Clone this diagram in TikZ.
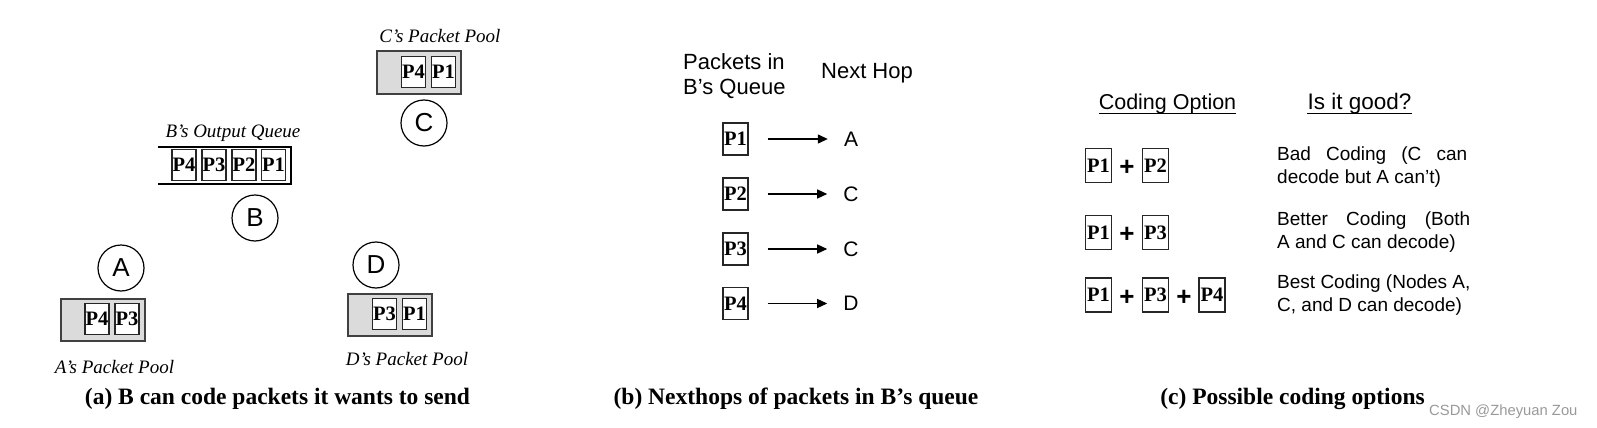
\documentclass[tikz,border=0pt]{standalone}
\usepackage{fontspec}
\setmainfont{Liberation Serif}
\setsansfont{Liberation Sans}
\usetikzlibrary{arrows.meta}
\tikzset{
  pkt/.style={draw=black!85, line width=1.1pt, fill=white, minimum width=24pt, minimum height=31pt, inner sep=0pt, font=\fontsize{20.5}{20.5}\selectfont\bfseries\rmfamily},
  pool/.style={draw=black!75, line width=1.8pt, fill=black!14},
  nd/.style={circle, draw, line width=1.2pt, minimum size=46pt, inner sep=0pt, font=\fontsize{26}{26}\selectfont\sffamily},
  ilbl/.style={anchor=base, inner sep=0pt, font=\fontsize{19}{19}\selectfont\itshape\rmfamily},
  capt/.style={anchor=base, inner sep=0pt, font=\fontsize{23.5}{23.5}\selectfont\bfseries\rmfamily},
  hdr/.style={inner sep=0pt, font=\fontsize{22}{25}\selectfont\sffamily},
  hop/.style={inner sep=2pt, font=\fontsize{21}{21}\selectfont\sffamily},
  plus/.style={inner sep=0pt, font=\fontsize{26}{26}\selectfont\bfseries\sffamily},
  desc/.style={anchor=west, inner sep=0pt, align=left, font=\fontsize{19}{22.5}\selectfont\sffamily},
  arr/.style={line width=1.3pt, -{Triangle[length=10pt,width=9pt]}},
}
\begin{document}
\begin{tikzpicture}[x=1pt,y=-1pt]
\useasboundingbox (0,0) rectangle (1597,428);
% ---------- panel (a) ----------
\node[ilbl] (lc) at (440,42) {C’s Packet Pool};
\draw[pool] (377,51) rectangle (461,94);
\node[pkt] (c4) at (413.5,72) {P4};
\node[pkt] (c1) at (443.5,72) {P1};
\node[nd] (C) at (424,123) {C};

\node[ilbl] (lb) at (233,137) {B’s Output Queue};
\draw[line width=1.3pt] (158,147) -- (291,147) -- (291,184) -- (158,184);
\node[pkt] (b4) at (184,165) {P4};
\node[pkt] (b3) at (214,165) {P3};
\node[pkt] (b2) at (244,165) {P2};
\node[pkt] (b1) at (273.5,165) {P1};
\node[nd] (B) at (255,218) {B};

\node[nd] (A) at (121,268) {A};
\draw[pool] (61,299) rectangle (145,341);
\node[pkt] (a4) at (97,319) {P4};
\node[pkt] (a3) at (127,319) {P3};
\node[ilbl] (la) at (114.5,373) {A’s Packet Pool};

\node[nd] (D) at (376,265) {D};
\draw[pool] (348,294) rectangle (432,336);
\node[pkt] (d3) at (384.5,314) {P3};
\node[pkt] (d1) at (414.5,314) {P1};
\node[ilbl] (ld) at (407,365) {D’s Packet Pool};

\node[capt] (capa) at (277.5,404) {(a) B can code packets it wants to send};

% ---------- panel (b) ----------
\node[hdr, anchor=west, align=left] (hq) at (683,76) {Packets in\\B’s Queue};
\node[hdr] (hn) at (867,73) {Next Hop};
\foreach \i/\y/\h in {1/139/A, 2/194/C, 3/249/C, 4/303.5/D}{
  \node[pkt, minimum width=25pt, minimum height=32pt] (q\i) at (735.5,\y) {P\i};
  \node[hop] (h\i) at (851,\y) {\h};
  \draw[arr, shorten <=19pt, shorten >=14pt] (q\i) -- (h\i);
}
\node[capt] (capb) at (796,404) {(b) Nexthops of packets in B’s queue};

% ---------- panel (c) ----------
\node[hdr, anchor=base, font=\fontsize{21.5}{25}\selectfont\sffamily] (co) at (1167.5,109) {Coding Option};
\draw[line width=1pt] ([yshift=-4pt]co.base west) -- ([yshift=-4pt]co.base east);
\node[hdr, anchor=base, font=\fontsize{22.5}{25}\selectfont\sffamily] (ig) at (1359.5,109) {Is it good?};
\draw[line width=1pt] ([yshift=-4pt]ig.base west) -- ([yshift=-4pt]ig.base east);

\node[pkt, minimum width=26pt, minimum height=34pt] (r1a) at (1098.5,165.5) {P1};
\node[plus] (r1p) at (1127,168) {+};
\node[pkt, minimum width=26pt, minimum height=34pt] (r1b) at (1155.5,165.5) {P2};
\node[desc] (t1) at (1277,167) {\makebox[190pt][s]{Bad Coding (C can}\\decode but A can’t)};

\node[pkt, minimum width=26pt, minimum height=34pt] (r2a) at (1098.5,232.5) {P1};
\node[plus] (r2p) at (1127,235) {+};
\node[pkt, minimum width=26pt, minimum height=34pt] (r2b) at (1155.5,232.5) {P3};
\node[desc] (t2) at (1277,232) {\makebox[193pt][s]{Better Coding (Both}\\A and C can decode)};

\node[pkt, minimum width=26pt, minimum height=34pt] (r3a) at (1098.5,295) {P1};
\node[plus] (r3p) at (1127,297.5) {+};
\node[pkt, minimum width=26pt, minimum height=34pt] (r3b) at (1155.5,295) {P3};
\node[plus] (r3q) at (1184,297.5) {+};
\node[pkt, minimum width=26pt, minimum height=34pt] (r3c) at (1212,295) {P4};
\node[desc] (t3) at (1277,295) {Best Coding (Nodes A,\\C, and D can decode)};

\node[capt] (capc) at (1292.5,404) {(c) Possible coding options};
\node[anchor=base west, inner sep=0pt, text=black!40, font=\fontsize{14.8}{14.8}\selectfont\sffamily] (wm) at (1429,415) {CSDN @Zheyuan Zou};
\end{tikzpicture}
\end{document}
